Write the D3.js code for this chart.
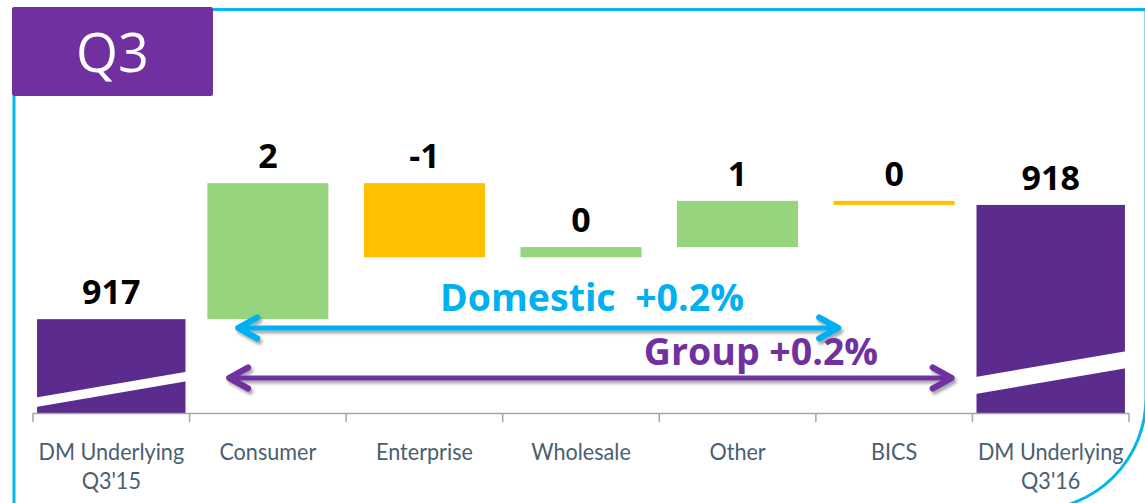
<!DOCTYPE html>
<html>
<head>
<meta charset="utf-8">
<script src="https://cdn.jsdelivr.net/npm/d3@7"></script>
<style>
  html, body { margin: 0; padding: 0; background: #fff; }
  svg { display: block; }
</style>
</head>
<body>
<svg id="chart" width="1145" height="503"></svg>
<script>
// ---- data ----
const categories = ["DM Underlying Q3'15", "Consumer", "Enterprise", "Wholesale", "Other", "BICS", "DM Underlying Q3'16"];
const axisLabels = [["DM Underlying", "Q3'15"], ["Consumer"], ["Enterprise"], ["Wholesale"], ["Other"], ["BICS"], ["DM Underlying", "Q3'16"]];
const startValue = 916.8;
const deltas = [2.0, -1.09, 0.15, 0.68, -0.06];
const titleText = "Q3";
const domesticText = "Domestic\u00a0\u00a0+0.2%";
const groupText = "Group +0.2%";

// ---- build waterfall ----
const rows = [];
rows.push({ cat: categories[0], y0: null, y1: startValue, v: startValue, type: "total" });
let run = startValue;
deltas.forEach((d, i) => {
  rows.push({ cat: categories[i + 1], y0: run, y1: run + d, v: d, type: d >= 0 ? "up" : "down" });
  run += d;
});
rows.push({ cat: categories[6], y0: null, y1: run, v: run, type: "total" });

const svg = d3.select("#chart");
const baseline = 413;

const x = d3.scaleBand().domain(categories).range([33, 1129]).paddingInner(0).paddingOuter(0);
const y = d3.scaleLinear().domain([915.42, 918.8]).range([baseline, baseline - 3.38 * 68]);

const colors = { total: "#5B2C8E", up: "#96D47E", down: "#FFC000" };

// defs: shadow
const defs = svg.append("defs");
const f = defs.append("filter").attr("id", "shadow").attr("x", "-5%").attr("y", "-50%").attr("width", "110%").attr("height", "250%");
f.append("feDropShadow").attr("dx", 2).attr("dy", 3).attr("stdDeviation", 1.8)
  .attr("flood-color", "#000").attr("flood-opacity", 0.35);

// frame
const R = 112;
svg.append("path")
  .attr("d", `M213,9.5 L1146,9.5 L1146,${510 - R} A${R},${R} 0 0 1 ${1146 - R},510 L14,510 L14,96`)
  .attr("fill", "none").attr("stroke", "#00B8EE").attr("stroke-width", 3);

// title box
svg.append("rect").attr("x", 12).attr("y", 7).attr("width", 201).attr("height", 89).attr("rx", 2)
  .attr("fill", "#7030A0");
svg.append("text").attr("x", 112.5).attr("y", 72).attr("text-anchor", "middle")
  .attr("font-family", "Open Sans").attr("font-size", 54).attr("fill", "#fff").text(titleText);

// bars
const bw = x.bandwidth();
const barW = d => d.type === "total" ? bw * 0.948 : bw * 0.773;
const barTop = d => d.type === "total" ? y(d.y1) : y(Math.max(d.y0, d.y1));
const barBot = d => d.type === "total" ? baseline : y(Math.min(d.y0, d.y1));

svg.append("g").selectAll("rect").data(rows).join("rect")
  .attr("x", d => x(d.cat) + bw / 2 - barW(d) / 2)
  .attr("y", barTop)
  .attr("width", barW)
  .attr("height", d => barBot(d) - barTop(d))
  .attr("fill", d => colors[d.type]);

// break slashes on total bars
const slashes = [{ i: 0, off: 6, th: 9.5 }, { i: 6, off: 19, th: 17 }];
svg.append("g").selectAll("path").data(slashes).join("path")
  .attr("d", s => {
    const d = rows[s.i];
    const x0 = x(d.cat) + bw / 2 - barW(d) / 2 - 1, x1 = x0 + barW(d) + 2;
    const yl = baseline - s.off, rise = 25.5 * (x1 - x0) / (barW(d));
    return `M${x0},${yl} L${x1},${yl - rise} L${x1},${yl - rise - s.th} L${x0},${yl - s.th} Z`;
  })
  .attr("fill", "#fff");

// value labels
svg.append("g").selectAll("text").data(rows).join("text")
  .attr("x", d => x(d.cat) + bw / 2)
  .attr("y", d => barTop(d) - 15)
  .attr("text-anchor", "middle")
  .attr("font-family", "Open Sans").attr("font-weight", 700).attr("font-size", 34)
  .attr("fill", "#000")
  .text(d => String(Math.round(d.v)));

// axis
const ax = svg.append("g");
ax.append("line").attr("x1", x.range()[0]).attr("x2", x.range()[1])
  .attr("y1", baseline + 0.5).attr("y2", baseline + 0.5)
  .attr("stroke", "#A6A6A6").attr("stroke-width", 1.5);
const bounds = categories.map(c => x(c)).concat([x.range()[1]]);
ax.selectAll("line.tick").data(bounds).join("line").attr("class", "tick")
  .attr("x1", d => d).attr("x2", d => d).attr("y1", baseline).attr("y2", baseline + 9)
  .attr("stroke", "#A6A6A6").attr("stroke-width", 1.5);

ax.selectAll("text.lab").data(categories).join("text").attr("class", "lab")
  .attr("transform", c => `translate(${x(c) + bw / 2},460) scale(0.9,1)`)
  .attr("text-anchor", "middle")
  .attr("font-family", "Lato").attr("font-size", 24)
  .attr("fill", "#4A5E70")
  .each(function (c, i) {
    const t = d3.select(this);
    axisLabels[i].forEach((line, j) => {
      t.append("tspan").attr("x", 0).attr("y", j * 29).text(line);
    });
  });

// arrows
function arrow(x1, x2, yy, color) {
  const g = svg.append("g").attr("filter", "url(#shadow)");
  const hl = 21, hh = 10.5;
  g.append("line").attr("x1", x1 + 2).attr("x2", x2 - 2).attr("y1", yy).attr("y2", yy)
    .attr("stroke", color).attr("stroke-width", 5);
  g.append("path")
    .attr("d", `M${x1 + hl},${yy - hh} L${x1 + 2},${yy} L${x1 + hl},${yy + hh} M${x2 - hl},${yy - hh} L${x2 - 2},${yy} L${x2 - hl},${yy + hh}`)
    .attr("fill", "none").attr("stroke", color).attr("stroke-width", 6)
    .attr("stroke-linecap", "round").attr("stroke-linejoin", "round");
}
arrow(x("Consumer") + bw * 0.298, x("BICS") + bw * 0.155, baseline - 85, "#00B0F0");
arrow(x("Consumer") + bw * 0.24, x("BICS") + bw * 0.88, baseline - 35, "#7030A0");

svg.append("text").attr("x", 592).attr("y", 311).attr("text-anchor", "middle")
  .attr("font-family", "Open Sans").attr("font-weight", 700).attr("font-size", 37.5)
  .attr("fill", "#00B0F0").text(domesticText);
svg.append("text").attr("x", 761).attr("y", 365).attr("text-anchor", "middle")
  .attr("font-family", "Open Sans").attr("font-weight", 700).attr("font-size", 37.5)
  .attr("fill", "#7030A0").text(groupText);
</script>
</body>
</html>
